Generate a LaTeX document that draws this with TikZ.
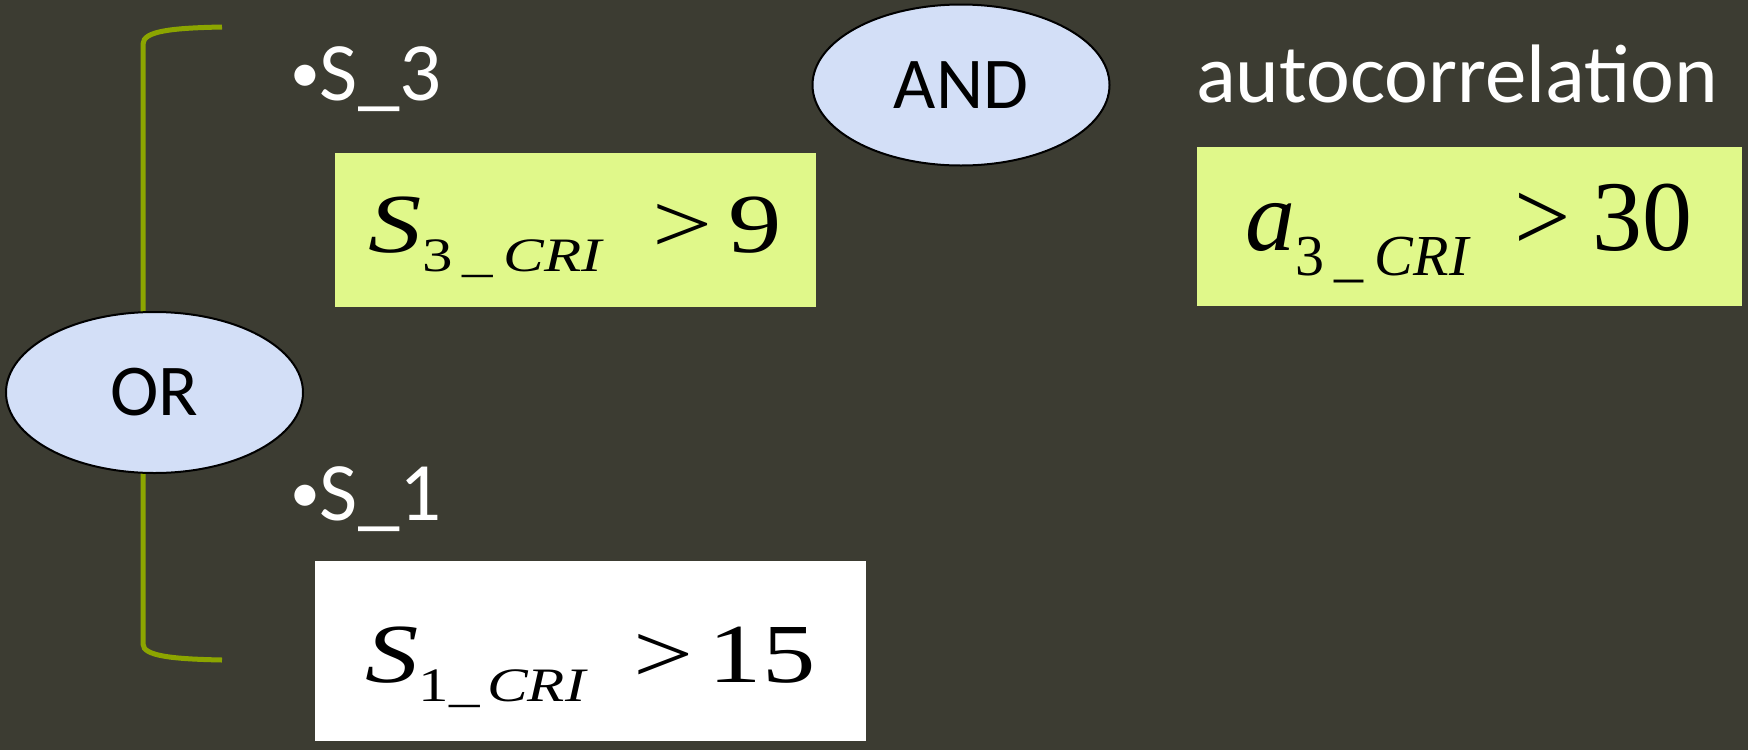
\documentclass[tikz,border=0pt]{standalone}
\usepackage{fontspec}
\setmainfont{Carlito}
\newfontfamily\tms{Liberation Serif}
\usetikzlibrary{shapes.geometric}
\definecolor{bgc}{RGB}{60,60,50}
\definecolor{brkc}{RGB}{140,165,0}
\definecolor{ellc}{RGB}{211,223,247}
\definecolor{yelc}{RGB}{224,248,138}
\pgfdeclarelayer{bgl}
\pgfdeclarelayer{backl}
\pgfsetlayers{bgl,backl,main}
\newcommand\smbul{\raisebox{8pt}{\scalebox{0.72}{•}}}
\begin{document}
\begin{tikzpicture}[x=1pt,y=-1pt,
  gate/.style={ellipse,draw=black,line width=2pt,fill=ellc,minimum width=297pt,minimum height=161pt,inner sep=0pt,text=black,font=\fontsize{73}{73}\selectfont},
  lbl/.style={anchor=base west,inner sep=0pt,text=white,font=\fontsize{83}{83}\selectfont},
  critbox/.style={rectangle,inner sep=0pt,text=black},
  brk/.style={draw=brkc,line width=5pt}]
\useasboundingbox (0,0) rectangle (1748,750);
\begin{pgfonlayer}{bgl}
  \fill[bgc] (0,0) rectangle (1748,750);
\end{pgfonlayer}

% gates
\node[gate] (or) at (154.5,392.5) {OR};
\node[gate] (and) at (961,85) {AND};

% labels
\node[lbl] (s3lbl) at (290,100) {\smbul S\_3};
\node[lbl] (s1lbl) at (290,520) {\smbul S\_1};
\node[lbl] (autolbl) at (1196,102) {autocorrelation};

% criteria boxes
\node[critbox,fill=yelc,minimum width=481pt,minimum height=154pt,text height=70pt,text depth=26pt] (s3box) at (575.5,230)
  {\scalebox{1.27}[1]{\tms\fontsize{84}{84}\selectfont\textit{S}\raisebox{-19pt}{\fontsize{48}{48}\selectfont 3\hspace{8pt}\_\hspace{8pt}\textit{CRI}}\hspace{38pt}>\hspace{13pt}9}};
\node[critbox,fill=white,minimum width=551pt,minimum height=180pt,text height=80pt,text depth=18pt] (s1box) at (590.5,651)
  {\scalebox{1.27}[1]{\tms\fontsize{84}{84}\selectfont\textit{S}\raisebox{-19pt}{\fontsize{48}{48}\selectfont 1\_\hspace{6pt}\textit{CRI}}\hspace{36pt}>\hspace{12pt}15}};
\node[critbox,fill=yelc,minimum width=545pt,minimum height=159pt,text height=80pt,text depth=33pt] (a3box) at (1469.5,226.5)
  {\tms\fontsize{100}{100}\selectfont\textit{a}\raisebox{-25pt}{\fontsize{58}{58}\selectfont 3\hspace{10pt}\_\hspace{11pt}\textit{CRI}}\hspace{44pt}>\hspace{22pt}30};

% bracket
\coordinate (bt) at (222,27);
\coordinate (bb) at (222,660);
\begin{pgfonlayer}{backl}
  \draw[brk] (bt) .. controls (172,28) and (143,31) .. (143,44) -- (or.center -| 143,0) -- (143,644) .. controls (143,656) and (172,659) .. (bb);
\end{pgfonlayer}
\end{tikzpicture}
\end{document}
